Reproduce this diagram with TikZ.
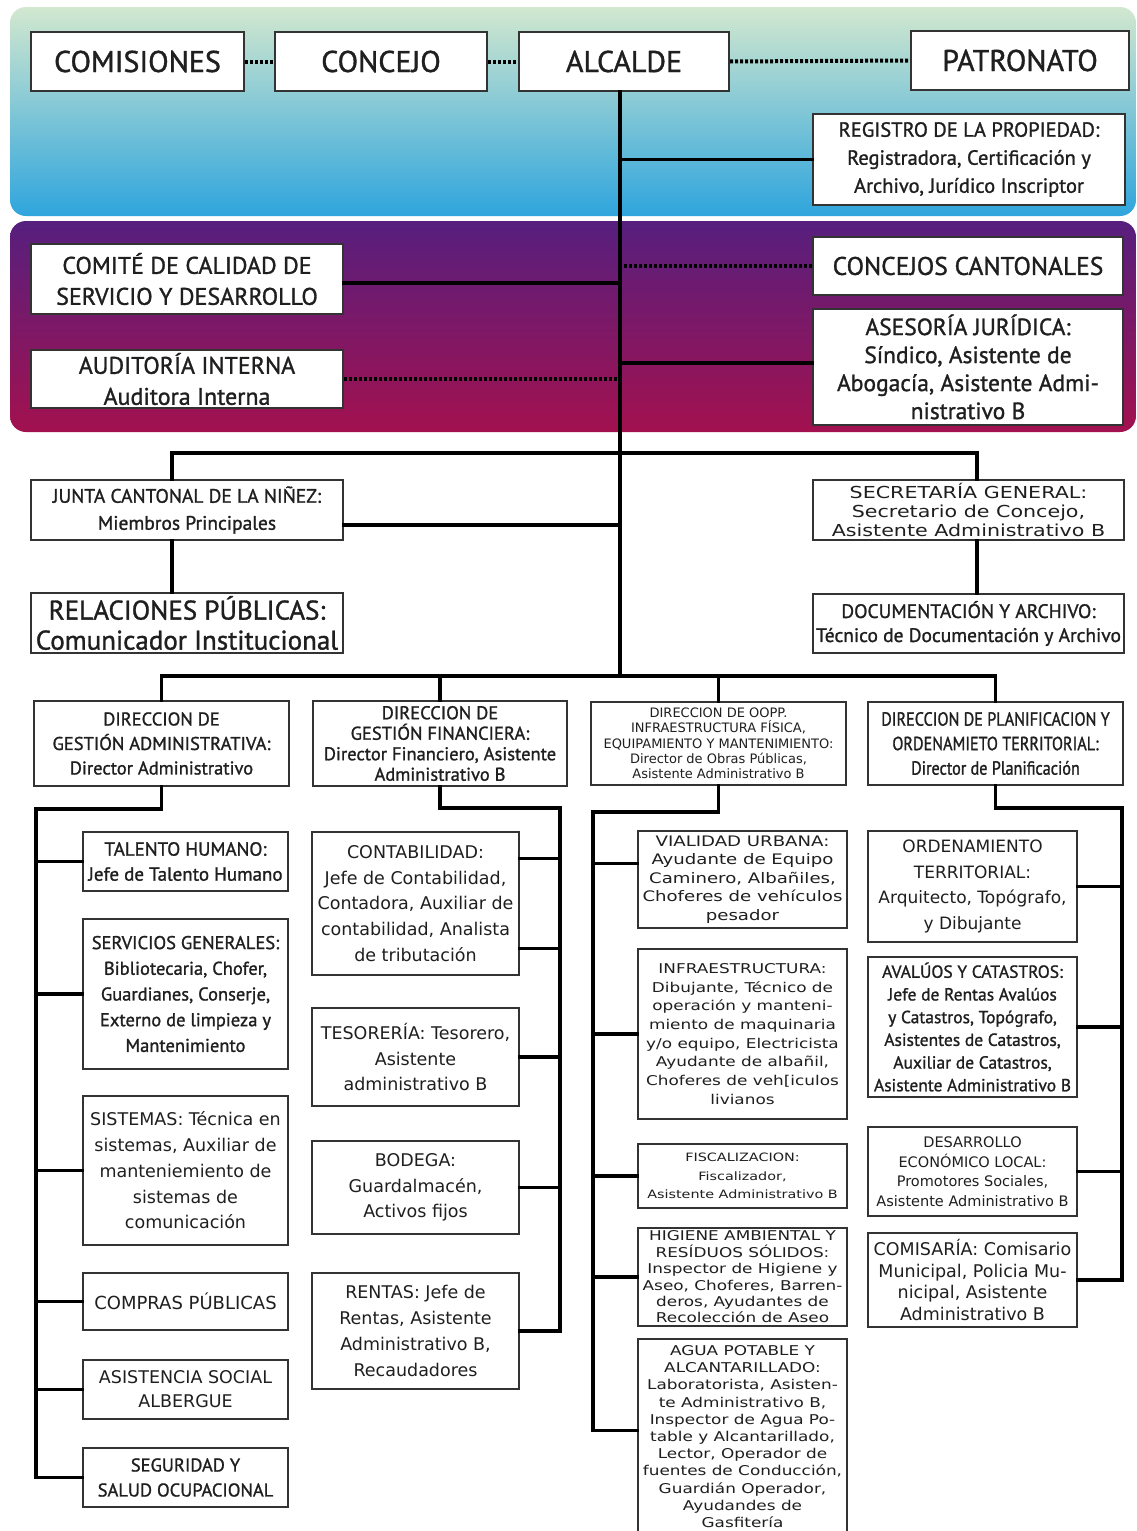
\documentclass[tikz,border=0pt]{standalone}
\usepackage{fontspec}
\setmainfont{PT Sans}
\newfontfamily\fA[FakeBold=1.2]{PT Sans}
\newfontfamily\fN[FakeStretch=0.85,FakeBold=1.2]{PT Sans}
\newfontfamily\fB{DejaVu Sans}
\newfontfamily\fC[FakeStretch=1.25]{DejaVu Sans}
\newcommand\myfs[2]{\fontsize{#1}{#2}\selectfont}
\newcommand\bx[7]{\node[boxst,font={#2},anchor=north west,minimum width={#5pt-#3pt},minimum height={#6pt-#4pt}] (#1) at (#3,#4) {#7};}
\definecolor{bandA}{HTML}{D2E8CF}
\definecolor{bandB}{HTML}{8FCBE0}
\definecolor{bandC}{HTML}{2FA5DD}
\definecolor{purA}{HTML}{561F7E}
\definecolor{purB}{HTML}{7E1A73}
\definecolor{purC}{HTML}{A3114F}
\begin{document}
\begin{tikzpicture}[x=1pt,y=-1pt,
  boxst/.style={draw=black!80,line width=2pt,fill=white,inner sep=0pt,align=center,text=black!88},
  conn/.style={line width=3.2pt,line cap=rect,black},
  dotln/.style={line width=4pt,black,dash pattern=on 3pt off 2pt}]
\useasboundingbox (0,0) rectangle (1136,1531);
\clip (0,0) rectangle (1136,1531);
\fill[white] (0,0) rectangle (1136,1531);
% bands
\shade[rounded corners=16pt,top color=bandA,middle color=bandB,bottom color=bandC] (10,7) rectangle (1136,216);
\shade[rounded corners=16pt,top color=purA,middle color=purB,bottom color=purC] (10,221) rectangle (1136,432);
% boxes
\bx{comisiones}{\fA\myfs{30}{36}}{30}{31}{243}{90}{COMISIONES}
\bx{concejo}{\fA\myfs{30}{36}}{274}{31}{486}{90}{CONCEJO}
\bx{alcalde}{\fA\myfs{30}{36}}{518}{31}{728}{90}{ALCALDE}
\bx{patronato}{\fA\myfs{30}{36}}{910}{30}{1128}{89}{PATRONATO}
\bx{registro}{\fA\myfs{20.5}{28}}{812}{113}{1124}{204}{REGISTRO DE LA PROPIEDAD:\\Registradora, Certificación y\\Archivo, Jurídico Inscriptor}
\bx{comite}{\fA\myfs{24}{31}}{30}{243}{342}{313}{COMITÉ DE CALIDAD DE\\SERVICIO Y DESARROLLO}
\bx{concejos}{\fA\myfs{25.5}{30}}{812}{236}{1122}{294}{CONCEJOS CANTONALES}
\bx{auditoria}{\fA\myfs{24}{31}}{30}{349}{342}{407}{AUDITORÍA INTERNA\\Auditora Interna}
\bx{asesoria}{\fA\myfs{23.5}{28}}{812}{308}{1122}{424}{ASESORÍA JURÍDICA:\\Síndico, Asistente de\\Abogacía, Asistente Admi-\\nistrativo B}
\bx{junta}{\fA\myfs{19.5}{27}}{30}{479}{342}{539}{JUNTA CANTONAL DE LA NIÑEZ:\\Miembros Principales}
\bx{secretaria}{\fC\myfs{16.5}{19}}{812}{479}{1123}{539}{SECRETARÍA GENERAL:\\Secretario de Concejo,\\Asistente Administrativo B}
\bx{relaciones}{\fA\myfs{27}{30}}{30}{592}{342}{652}{RELACIONES PÚBLICAS:\\Comunicador Institucional}
\bx{documentacion}{\fA\myfs{19.5}{24}}{812}{593}{1123}{652}{DOCUMENTACIÓN Y ARCHIVO:\\Técnico de Documentación y Archivo}
\bx{d1}{\fA\myfs{18.5}{24.5}}{33}{700}{288}{785}{DIRECCION DE\\GESTIÓN ADMINISTRATIVA:\\Director Administrativo}
\bx{d2}{\fA\myfs{18.5}{20.5}}{312}{700}{566}{785}{DIRECCION DE\\GESTIÓN FINANCIERA:\\Director Financiero, Asistente\\Administrativo B}
\bx{d3}{\fB\myfs{13}{15.3}\color{black!70}}{590}{701}{845}{784}{DIRECCION DE OOPP.\\INFRAESTRUCTURA FÍSICA,\\EQUIPAMIENTO Y MANTENIMIENTO:\\Director de Obras Públicas,\\Asistente Administrativo B}
\bx{d4}{\fN\myfs{19}{24.5}}{867}{701}{1122}{784}{DIRECCION DE PLANIFICACION Y\\ORDENAMIETO TERRITORIAL:\\Director de Planificación}
% left column
\bx{talento}{\fA\myfs{19}{25}}{82}{831}{287}{890}{TALENTO HUMANO:\\Jefe de Talento Humano}
\bx{servicios}{\fA\myfs{18.5}{25.7}}{82}{918}{287}{1068}{SERVICIOS GENERALES:\\Bibliotecaria, Chofer,\\Guardianes, Conserje,\\Externo de limpieza y\\Mantenimiento}
\bx{sistemas}{\fB\myfs{17.5}{25.8}}{82}{1095}{287}{1244}{SISTEMAS: Técnica en\\sistemas, Auxiliar de\\manteniemiento de\\sistemas de\\comunicación}
\bx{compras}{\fB\myfs{18}{24}}{82}{1272}{287}{1329}{COMPRAS PÚBLICAS}
\bx{asistencia}{\fB\myfs{17.5}{24}}{82}{1359}{287}{1418}{ASISTENCIA SOCIAL\\ALBERGUE}
\bx{seguridad}{\fA\myfs{18.5}{25}}{82}{1447}{287}{1506}{SEGURIDAD Y\\SALUD OCUPACIONAL}
% financial column
\bx{contabilidad}{\fB\myfs{17.5}{25.7}}{311}{831}{518}{974}{CONTABILIDAD:\\Jefe de Contabilidad,\\Contadora, Auxiliar de\\contabilidad, Analista\\de tributación}
\bx{tesoreria}{\fB\myfs{17.5}{25.8}}{311}{1007}{518}{1105}{TESORERÍA: Tesorero,\\Asistente\\administrativo B}
\bx{bodega}{\fB\myfs{17.5}{25.5}}{311}{1140}{518}{1233}{BODEGA:\\Guardalmacén,\\Activos fijos}
\bx{rentas}{\fB\myfs{17.5}{26}}{311}{1272}{518}{1388}{RENTAS: Jefe de\\Rentas, Asistente\\Administrativo B,\\Recaudadores}
% public works column
\bx{vialidad}{\fC\myfs{14.5}{18.5}}{637}{830}{846}{927}{VIALIDAD URBANA:\\Ayudante de Equipo\\Caminero, Albañiles,\\Choferes de vehículos\\pesador}
\bx{infra}{\fC\myfs{13.5}{18.7}}{637}{948}{846}{1118}{INFRAESTRUCTURA:\\Dibujante, Técnico de\\operación y manteni-\\miento de maquinaria\\y/o equipo, Electricista\\Ayudante de albañil,\\Choferes de veh[iculos\\livianos}
\bx{fiscal}{\fC\myfs{11.5}{18.5}\color{black!70}}{637}{1143}{846}{1207}{FISCALIZACION:\\Fiscalizador,\\Asistente Administrativo B}
\bx{higiene}{\fC\myfs{13.5}{16.4}}{637}{1227}{846}{1325}{HIGIENE AMBIENTAL Y\\RESÍDUOS SÓLIDOS:\\Inspector de Higiene y\\Aseo, Choferes, Barren-\\deros, Ayudantes de\\Recolección de Aseo}
\bx{agua}{\fC\myfs{13.5}{17.2}}{637}{1338}{846}{1533}{AGUA POTABLE Y\\ALCANTARILLADO:\\Laboratorista, Asisten-\\te Administrativo B,\\Inspector de Agua Po-\\table y Alcantarillado,\\Lector, Operador de\\fuentes de Conducción,\\Guardián Operador,\\Ayudandes de\\Gasfitería}
% planning column
\bx{ordenamiento}{\fB\myfs{17}{25.8}}{867}{830}{1076}{941}{ORDENAMIENTO\\TERRITORIAL:\\Arquitecto, Topógrafo,\\y Dibujante}
\bx{avaluos}{\fA\myfs{17.5}{22.7}}{867}{956}{1076}{1096}{AVALÚOS Y CATASTROS:\\Jefe de Rentas Avalúos\\y Catastros, Topógrafo,\\Asistentes de Catastros,\\Auxiliar de Catastros,\\Asistente Administrativo B}
\bx{desarrollo}{\fB\myfs{14.5}{19.5}\color{black!70}}{867}{1126}{1076}{1215}{DESARROLLO\\ECONÓMICO LOCAL:\\Promotores Sociales,\\Asistente Administrativo B}
\bx{comisaria}{\fB\myfs{17.5}{21.5}}{867}{1232}{1076}{1326}{COMISARÍA: Comisario\\Municipal, Policia Mu-\\nicipal, Asistente\\Administrativo B}
% connectors: top row
\draw[dotln] (comisiones.east) -- (concejo.west);
\draw[dotln] (concejo.east) -- (alcalde.west);
\draw[dotln] (alcalde.east) -- (patronato.west);
% trunk
\coordinate (T) at (620,676);
\draw[conn] (alcalde.south -| T) -- (T);
\draw[conn] (registro.west) -- (registro.west -| T);
\draw[conn] ([yshift=-4pt]comite.east) -- ([yshift=-4pt]comite.east -| T);
\draw[dotln] (concejos.west) -- (concejos.west -| T);
\draw[dotln] (auditoria.east) -- (auditoria.east -| T);
\draw[conn] ([yshift=4pt]asesoria.west) -- ([yshift=4pt]asesoria.west -| T);
% upper bus
\coordinate (JL) at (172,453);
\coordinate (SR) at (977,453);
\draw[conn] (JL |- junta.north) -- (JL) -- (SR) -- (SR |- secretaria.north);
\draw[conn] (JL |- junta.south) -- (JL |- relaciones.north);
\draw[conn] (SR |- secretaria.south) -- (SR |- documentacion.north);
\draw[conn] ([yshift=-15pt]junta.east) -- ([yshift=-15pt]junta.east -| T);
% direction bus
\draw[conn] (d1.north |- T) -- (d4.north |- T);
\foreach \n in {d1,d2,d3,d4} \draw[conn] (\n.north |- T) -- (\n.north);
% administrative subtree
\coordinate (L1) at (36,809);
\draw[conn] (d1.south) |- (L1) |- (seguridad.west);
\foreach \n in {talento,servicios,sistemas,compras,asistencia} \draw[conn] (\n.west -| L1) -- (\n.west);
% financial subtree
\coordinate (R2) at (560,808);
\draw[conn] (d2.south) |- (R2) |- (rentas.east);
\draw[conn] ([yshift=45pt]contabilidad.east) -- ([yshift=45pt]contabilidad.east -| R2);
\draw[conn] ([yshift=-45pt]contabilidad.east) -- ([yshift=-45pt]contabilidad.east -| R2);
\foreach \n in {tesoreria,bodega} \draw[conn] (\n.east) -- (\n.east -| R2);
% public works subtree
\coordinate (L3) at (593,812);
\draw[conn] (d3.south) |- (L3) |- ([yshift=6pt]agua.west);
\draw[conn] ([yshift=16pt]vialidad.west -| L3) -- ([yshift=16pt]vialidad.west);
\foreach \n in {infra,fiscal,higiene} \draw[conn] (\n.west -| L3) -- (\n.west);
% planning subtree
\coordinate (R4) at (1122,808);
\draw[conn] (d4.south) |- (R4) |- (comisaria.east);
\foreach \n in {ordenamiento,avaluos,desarrollo} \draw[conn] (\n.east) -- (\n.east -| R4);
\end{tikzpicture}
\end{document}
